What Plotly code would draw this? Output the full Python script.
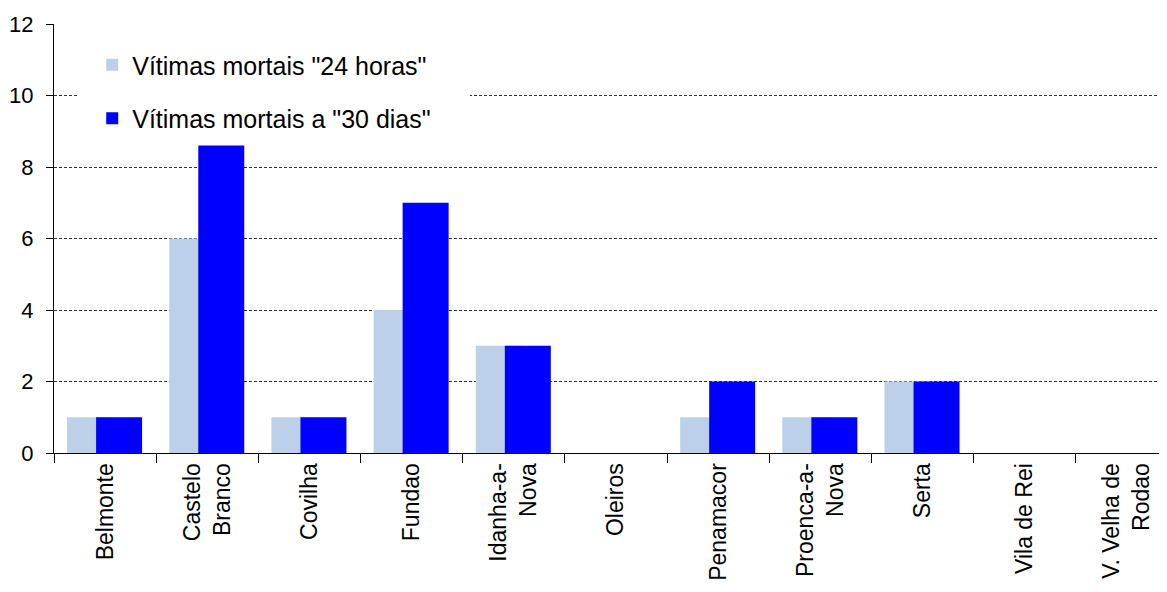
import plotly.graph_objects as go

# dados
concelhos = [
    'Belmonte', 'Castelo<br>Branco', 'Covilha', 'Fundao', 'Idanha-a-<br>Nova',
    'Oleiros', 'Penamacor', 'Proenca-a-<br>Nova', 'Serta', 'Vila de Rei',
    'V. Velha de<br>Rodao',
]
mortos_24h = [1, 6, 1, 4, 3, 0, 1, 1, 2, 0, 0]
mortos_30d = [1, 8.6, 1, 7, 3, 0, 2, 1, 2, 0, 0]

COR_24H = '#BDD0EA'
COR_30D = '#0000FF'
FONTE = 'Liberation Sans, Arial, sans-serif'

fig = go.Figure()

# barras sobrepostas (estilo Excel)
fig.add_trace(go.Bar(
    x=concelhos, y=mortos_24h,
    name='Vítimas mortais "24 horas"',
    marker=dict(color=COR_24H, line=dict(width=0)),
    width=0.45, offset=-0.372,
    legendgroup='a',
))
fig.add_trace(go.Bar(
    x=concelhos, y=mortos_30d,
    name='Vítimas mortais a "30 dias"',
    marker=dict(color=COR_30D, line=dict(width=0)),
    width=0.45, offset=-0.088,
    legendgroup='b',
))

# fundo branco da legenda (tapa a grelha)
fig.add_shape(
    type='rect', xref='paper', yref='paper',
    x0=0.0214, x1=0.370, y0=0.73, y1=0.974,
    fillcolor='white', line=dict(width=0), layer='above',
)

# a pagina tem 8px de margem no body -> compensar nas margens
# (o grafico original fica cortado a direita)
fig.update_layout(
    width=1180, height=592,
    barmode='overlay',
    margin=dict(l=46, r=10, t=16, b=147),
    paper_bgcolor='white',
    plot_bgcolor='white',
    font=dict(family=FONTE, color='black'),
    legend=dict(
        x=0.034, y=0.958, xanchor='left', yanchor='top',
        bgcolor='rgba(0,0,0,0)',
        font=dict(size=25, family=FONTE),
        traceorder='grouped',
        tracegroupgap=18,
        itemwidth=30,
    ),
    xaxis=dict(
        automargin=False,
        showline=True, linecolor='black', linewidth=1,
        ticks='outside', tickson='boundaries', ticklen=9, tickcolor='black',
        tickangle=-90,
        tickfont=dict(size=23),
        showgrid=False,
    ),
    yaxis=dict(
        automargin=False,
        range=[0, 12], dtick=2,
        showline=True, linecolor='black', linewidth=1,
        ticks='outside', ticklen=7, tickcolor='black',
        tickfont=dict(size=22),
        ticklabelstandoff=8,
        showgrid=True, gridcolor='#333333', gridwidth=1, griddash='3px,2px',
        zeroline=False,
    ),
)

fig.write_html('out.html')
